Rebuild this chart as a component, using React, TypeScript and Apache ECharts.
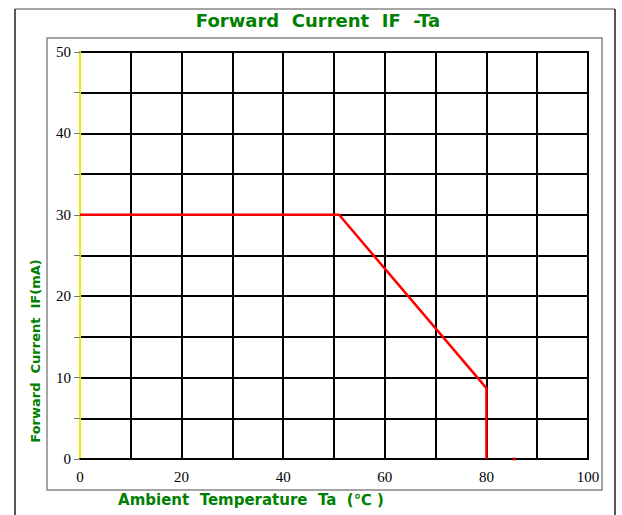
import React, { useEffect, useRef } from "react";
import * as echarts from "echarts";

const curveX = [0, 51, 80, 80];
const curveY = [30, 30, 8.7, 0];
const xTickLabels = [0, 20, 40, 60, 80, 100];
const yTickLabels = [0, 10, 20, 30, 40, 50];
const stray = [[85.5, 0]];

const GREEN = "#008000";

export default function App() {
  const ref = useRef<HTMLDivElement>(null);
  useEffect(() => {
    if (!ref.current) return;
    const chart = echarts.init(ref.current, null, { renderer: "svg" });
    const data = curveX.map((x, i) => [x, curveY[i]]);
    chart.setOption({
      animation: false,
      backgroundColor: "#ffffff",
      grid: {
        left: 80,
        top: 52,
        width: 508,
        height: 407,
        show: true,
        borderColor: "#000000",
        borderWidth: 2,
        containLabel: false,
      },
      xAxis: {
        type: "value",
        min: 0,
        max: 100,
        interval: 10,
        axisLine: { show: true, lineStyle: { color: "#000", width: 2 } },
        axisTick: { show: false },
        splitLine: { show: true, lineStyle: { color: "#000", width: 2 } },
        axisLabel: {
          margin: 10,
          color: "#000",
          fontFamily: "Liberation Serif",
          fontSize: 15,
          formatter: (v: number) => (xTickLabels.includes(v) ? String(v) : ""),
        },
      },
      yAxis: {
        type: "value",
        min: 0,
        max: 50,
        interval: 5,
        axisLine: { show: true, lineStyle: { color: "#e8e800", width: 2 } },
        axisTick: { show: true, length: 6, lineStyle: { color: "#777", width: 1 } },
        splitLine: { show: true, lineStyle: { color: "#000", width: 2 } },
        axisLabel: {
          margin: 9,
          color: "#000",
          fontFamily: "Liberation Serif",
          fontSize: 15,
          formatter: (v: number) => (yTickLabels.includes(v) ? String(v) : ""),
        },
      },
      series: [
        {
          type: "line",
          data,
          symbol: "none",
          lineStyle: { color: "#ff0000", width: 2.5 },
          z: 5,
        },
        {
          type: "scatter",
          data: stray,
          symbol: "rect",
          symbolSize: [3, 3],
          itemStyle: { color: "#ff0000" },
          z: 6,
        },
      ],
      graphic: [
        { type: "line", shape: { x1: 15, y1: 9, x2: 615, y2: 9 }, style: { stroke: "#888", lineWidth: 1.5 } },
        { type: "line", shape: { x1: 15, y1: 9, x2: 15, y2: 515 }, style: { stroke: "#222", lineWidth: 1.5 } },
        { type: "line", shape: { x1: 615, y1: 9, x2: 615, y2: 515 }, style: { stroke: "#222", lineWidth: 1.5 } },
        {
          type: "rect",
          shape: { x: 47, y: 38, width: 555, height: 452 },
          style: { fill: "none", stroke: "#888", lineWidth: 1.5 },
        },
        {
          type: "text",
          x: 318,
          y: 20,
          style: {
            text: "Forward  Current  IF  -Ta",
            fill: GREEN,
            font: "bold 18px 'DejaVu Sans', sans-serif",
            textAlign: "center",
            textVerticalAlign: "middle",
          },
        },
        {
          type: "text",
          x: 35,
          y: 351,
          rotation: Math.PI / 2,
          style: {
            text: "Forward  Current  IF(mA)",
            fill: GREEN,
            font: "bold 13px 'DejaVu Sans', sans-serif",
            textAlign: "center",
            textVerticalAlign: "middle",
          },
        },
        {
          type: "text",
          x: 251,
          y: 500,
          style: {
            text: "Ambient  Temperature  Ta  (℃ )",
            fill: GREEN,
            font: "bold 15px 'DejaVu Sans', sans-serif",
            textAlign: "center",
            textVerticalAlign: "middle",
          },
        },
      ],
    });
    return () => chart.dispose();
  }, []);
  return (
    <div
      ref={ref}
      style={{ position: "absolute", left: 0, top: 0, width: 622, height: 515, background: "#fff" }}
    />
  );
}
